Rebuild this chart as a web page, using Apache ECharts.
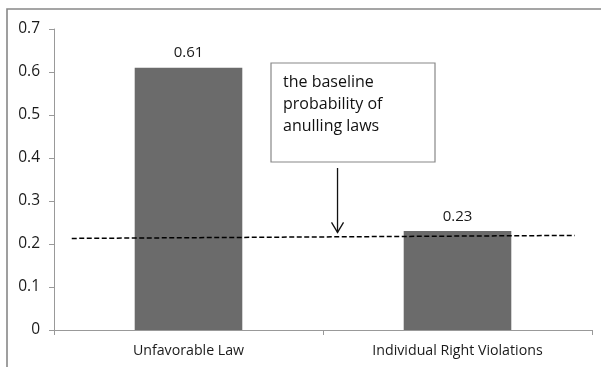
<!DOCTYPE html>
<html>
<head>
<meta charset="utf-8">
<script src="https://cdn.jsdelivr.net/npm/echarts@6/dist/echarts.min.js"></script>
<style>html,body{margin:0;padding:0;background:#fff;}#c{width:601px;height:367px;}</style>
</head>
<body>
<div id="c"></div>
<script>
const categories = ['Unfavorable Law', 'Individual Right Violations'];
const values = [0.61, 0.23];
const yTicks = [0, 0.1, 0.2, 0.3, 0.4, 0.5, 0.6, 0.7];
// baseline dashed line: [fraction across plot, value]
const baselinePts = [[0.033, 0.213], [0.968, 0.220]];
// arrow (fraction across plot, value from -> value to)
const arrowX = 0.527, arrowFrom = 0.377, arrowTo = 0.227;
const noteLines = ['the baseline', 'probability of', 'anulling laws'];

const FONT = '"Open Sans", sans-serif';
const chart = echarts.init(document.getElementById('c'));
const option = {
  animation: false,
  backgroundColor: '#fff',
  grid: { left: 54, right: 9, top: 29, bottom: 37, containLabel: false },
  xAxis: [{
    type: 'category', data: categories,
    axisLine: { lineStyle: { color: '#999', width: 1 } },
    axisTick: { show: true, length: 5, lineStyle: { color: '#999' } },
    axisLabel: { color: '#1a1a1a', fontSize: 14.2, fontFamily: FONT, margin: 14 }
  }, {
    type: 'value', min: 0, max: 1, show: false
  }],
  yAxis: {
    type: 'value', min: 0, max: 0.7, interval: 0.1,
    axisLine: { show: true, lineStyle: { color: '#999' } },
    axisTick: { show: true, inside: false, length: 5, lineStyle: { color: '#999' } },
    splitLine: { show: false },
    axisLabel: { color: '#1a1a1a', fontSize: 15.5, fontFamily: FONT, margin: 14,
      formatter: v => { const t = yTicks.find(x => Math.abs(x - v) < 1e-9); return t === 0 ? '0' : String(t); } }
  },
  series: [{
    type: 'bar', data: values, barWidth: '40%', xAxisIndex: 0,
    itemStyle: { color: '#6b6b6b' },
    label: { show: true, position: 'top', distance: 7, color: '#1a1a1a', fontSize: 15, fontFamily: FONT,
      formatter: p => p.value.toFixed(2) }
  }, {
    type: 'line', xAxisIndex: 1, data: baselinePts, symbol: 'none',
    lineStyle: { color: '#000', width: 1.5, type: [5, 2.5] }, z: 5
  }, {
    type: 'line', xAxisIndex: 1, data: [[arrowX, arrowFrom], [arrowX, arrowTo]], symbol: 'none',
    lineStyle: { color: '#111', width: 1.3 }, z: 6
  }],
  graphic: []
};
chart.setOption(option);

function drawExtras() {
  const head = chart.convertToPixel({ xAxisIndex: 1, yAxisIndex: 0 }, [arrowX, arrowTo]);
  chart.setOption({
    graphic: [
      { type: 'rect', shape: { x: 7, y: 9, width: 620, height: 400 }, style: { fill: 'none', stroke: '#888', lineWidth: 1.6 }, silent: true },
      { type: 'polyline', shape: { points: [[head[0] - 6, head[1] - 10], [head[0], head[1]], [head[0] + 6, head[1] - 10]] },
        style: { fill: 'none', stroke: '#111', lineWidth: 1.3 }, z: 10 },
      { type: 'rect', shape: { x: 271, y: 63, width: 164, height: 99 }, style: { fill: '#fff', stroke: '#888', lineWidth: 1.2 }, z: 10 },
      { type: 'text', x: 283, y: 71, z: 11,
        style: { text: noteLines.join('\n'), font: '16px ' + FONT, fill: '#111', lineHeight: 22 } }
    ]
  });
}
drawExtras();
</script>
</body>
</html>
